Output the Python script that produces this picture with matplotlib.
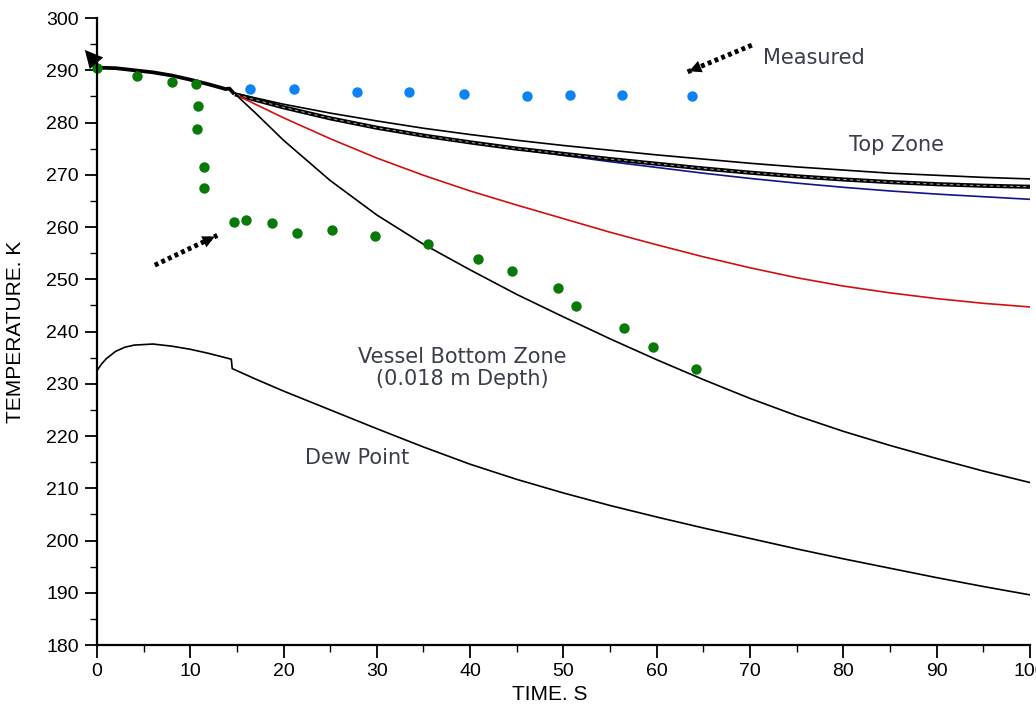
import matplotlib
matplotlib.use("Agg")
import matplotlib.pyplot as plt
from matplotlib.ticker import MultipleLocator

# shared early part of all model curves (s, K)
t_common = [0, 2, 4, 6, 8, 10, 12, 13.8, 14.2, 14.6]
T_common = [290.5, 290.4, 290.0, 289.6, 289.0, 288.2, 287.3, 286.4, 286.5, 285.7]

# top zone curves
t_top = [15, 20, 25, 30, 35, 40, 45, 50, 55, 60, 65, 70, 75, 80, 85, 90, 95, 100]
T_top_upper = [285.5, 283.5, 281.8, 280.3, 278.9, 277.7, 276.6, 275.6, 274.7, 273.8, 273.0, 272.2,
               271.5, 270.9, 270.3, 269.9, 269.5, 269.2]
T_top_mid = [285.3, 282.9, 280.8, 279.0, 277.5, 276.2, 275.0, 274.0, 273.0, 272.1, 271.2, 270.4,
             269.7, 269.1, 268.6, 268.2, 267.9, 267.7]
T_top_blue = [285.3, 282.9, 280.8, 279.0, 277.5, 276.2, 274.9, 273.7, 272.5, 271.4, 270.3, 269.3,
              268.4, 267.6, 266.9, 266.3, 265.8, 265.3]

# red intermediate curve
t_red = [15, 20, 25, 30, 35, 40, 45, 50, 55, 60, 65, 70, 75, 80, 85, 90, 95, 100]
T_red = [285.2, 280.9, 276.9, 273.2, 269.9, 266.9, 264.2, 261.6, 259.0, 256.6, 254.3, 252.2,
         250.3, 248.7, 247.4, 246.3, 245.4, 244.7]

# vessel bottom zone
t_bot = [14.8, 15.2, 17, 20, 25, 30, 35, 40, 45, 50, 55, 60, 65, 70, 75, 80, 85, 90, 95, 100]
T_bot = [285.6, 284.8, 281.8, 276.6, 268.9, 262.3, 256.7, 251.8, 247.1, 242.8, 238.6, 234.6,
         230.8, 227.2, 223.9, 220.9, 218.2, 215.7, 213.3, 211.1]

# dew point
t_dew = [0, 0.5, 1, 2, 3, 4, 6, 8, 10, 12, 14.4, 14.5, 17, 20, 25, 30, 35, 40, 45, 50, 55, 60,
         65, 70, 75, 80, 85, 90, 95, 100]
T_dew = [232.5, 233.8, 234.8, 236.2, 237.0, 237.4, 237.6, 237.2, 236.6, 235.8, 234.7, 232.9,
         230.9, 228.6, 225.0, 221.4, 217.9, 214.6, 211.7, 209.1, 206.7, 204.5, 202.4, 200.4,
         198.4, 196.5, 194.7, 192.9, 191.2, 189.6]

# measured, bottom (green) and top (blue)
t_meas_bot = [0, 4.3, 8.0, 10.6, 10.8, 10.7, 11.5, 11.5, 14.7, 16.0, 18.8, 21.4, 25.2, 29.8,
              35.5, 40.9, 44.5, 49.4, 51.4, 56.5, 59.6, 64.2]
T_meas_bot = [290.5, 288.9, 287.7, 287.3, 283.2, 278.7, 271.4, 267.4, 261.0, 261.3, 260.7, 258.8,
              259.4, 258.3, 256.7, 253.9, 251.6, 248.3, 244.9, 240.7, 237.0, 232.8]
t_meas_top = [16.4, 21.1, 27.9, 33.4, 39.3, 46.1, 50.7, 56.3, 63.8]
T_meas_top = [286.4, 286.5, 285.8, 285.8, 285.4, 285.1, 285.3, 285.3, 285.1]

fig = plt.figure(figsize=(10.36, 7.06), dpi=100)
ax = fig.add_axes([0.0936, 0.0864, 0.9004, 0.8881])

lw = 1.2
ax.plot(t_common, T_common, color="black", lw=2.7, solid_joinstyle="round")
ax.plot(t_top, T_top_upper, color="black", lw=lw)
ax.plot(t_top, T_top_blue, color="#13138a", lw=lw)
ax.plot(t_top, T_top_mid, color="black", lw=3.0)
ax.plot(t_top, T_top_mid, color="#9a9a9a", lw=0.8, linestyle=(0, (3, 3)))
ax.plot(t_red, T_red, color="#d01010", lw=lw)
ax.plot(t_bot, T_bot, color="black", lw=lw)
ax.plot(t_dew, T_dew, color="black", lw=lw)

ax.plot(t_meas_bot, T_meas_bot, "o", color="#087a08", ms=7.5, mec="none", clip_on=False)
ax.plot(t_meas_top, T_meas_top, "o", color="#0a84f5", ms=7.5, mec="none")

# labels
txt = dict(fontsize=15, color="#3a3e4a", ha="center", va="center", family="DejaVu Sans")
ax.text(76.9, 292.3, "Measured", **txt)
ax.text(85.7, 275.7, "Top Zone", **txt)
ax.text(39.2, 233.0, "Vessel Bottom Zone\n(0.018 m Depth)", linespacing=1.15, **txt)
ax.text(27.9, 215.8, "Dew Point", **txt)

# dotted pointer arrows
def dotted_arrow(x0, y0, x1, y1):
    ax.plot([x0, x1], [y0, y1], color="black", lw=3.5, linestyle=(0, (0.8, 0.7)),
            dash_capstyle="butt", clip_on=False)
    dx, dy = x1 - x0, y1 - y0
    ax.annotate("", xy=(x1, y1), xytext=(x1 - 0.15 * dx, y1 - 0.15 * dy),
                arrowprops=dict(arrowstyle="-|>", color="black", lw=0, mutation_scale=22))

dotted_arrow(70.2, 294.8, 63.2, 289.6)
dotted_arrow(6.2, 252.7, 12.9, 258.4)
ax.annotate("", xy=(-1.5, 294.3), xytext=(0.3, 290.6), annotation_clip=False,
            arrowprops=dict(arrowstyle="-|>", color="black", lw=0, mutation_scale=32))

ax.set_xlim(0, 100)
ax.set_ylim(180, 300)
ax.xaxis.set_major_locator(MultipleLocator(10))
ax.xaxis.set_minor_locator(MultipleLocator(5))
ax.yaxis.set_major_locator(MultipleLocator(10))
ax.yaxis.set_minor_locator(MultipleLocator(5))
for s in ["top", "right"]:
    ax.spines[s].set_visible(False)
for s in ["left", "bottom"]:
    ax.spines[s].set_linewidth(1.6)
ax.tick_params(which="major", length=9, width=1.3, labelsize=14, pad=4)
ax.tick_params(which="minor", length=5, width=1.0)
for lab in ax.get_xticklabels() + ax.get_yticklabels():
    lab.set_family("Liberation Sans")

ax.set_xlabel("TIME. S", fontsize=15, family="Liberation Sans")
ax.set_ylabel("TEMPERATURE. K", fontsize=15, family="Liberation Sans")
ax.xaxis.set_label_coords(0.485, -0.064)
ax.yaxis.set_label_coords(-0.077, 0.50)

fig.savefig("out.png", dpi=100)
